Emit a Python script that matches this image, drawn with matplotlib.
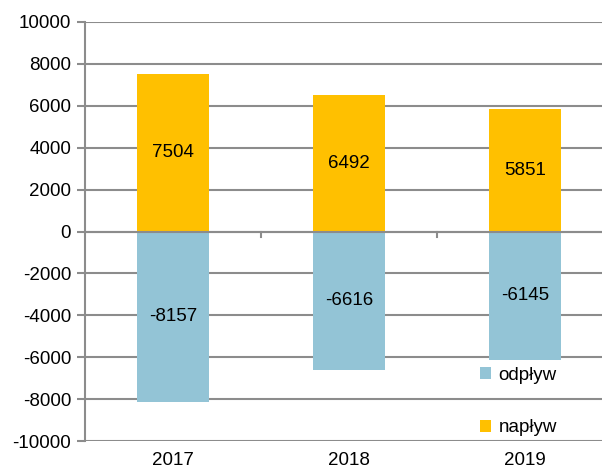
import numpy as np
import matplotlib
matplotlib.use("Agg")
import matplotlib.pyplot as plt

plt.rcParams['font.family'] = ['Liberation Sans', 'DejaVu Sans']
plt.rcParams['axes.unicode_minus'] = False
fs = 13.5

years = ['2017', '2018', '2019']
naplyw = [7504, 6492, 5851]
odplyw = [-8157, -6616, -6145]

gold = '#FFC000'
blue = '#93C4D6'
grid = '#8C8C8C'

fig = plt.figure(figsize=(6.02, 4.74), dpi=100)
ax = fig.add_axes([0.1412, 0.0696, 0.877, 0.884])

x = np.arange(len(years))
w = 0.41
b_out = ax.bar(x, odplyw, w, color=blue, label='odpływ', zorder=2)
b_in = ax.bar(x, naplyw, w, color=gold, label='napływ', zorder=2)

# value labels in the middle of each bar
for xi, v in zip(x, naplyw):
    ax.text(xi, v / 2, str(v), ha='center', va='center', fontsize=fs, zorder=4)
for xi, v in zip(x, odplyw):
    ax.text(xi, v / 2, str(v), ha='center', va='center', fontsize=fs, zorder=4)

ax.set_ylim(-10000, 10000)
ax.set_yticks(np.arange(-10000, 10001, 2000))
ax.set_xlim(-0.5, len(years) - 0.5)
ax.set_xticks(x)
ax.set_xticklabels(years)

ax.yaxis.grid(True, color=grid, linewidth=1.5, zorder=1)
ax.set_axisbelow(True)
ax.axhline(0, color=grid, linewidth=1.5, zorder=3)
for b in np.arange(0.5, len(years) - 0.5, 1):
    ax.plot([b, b], [0, -280], color=grid, linewidth=1.5, zorder=3, clip_on=False)

for s in ['top', 'right', 'bottom']:
    ax.spines[s].set_visible(False)
ax.spines['left'].set_color(grid)
ax.spines['left'].set_linewidth(1.5)
ax.tick_params(axis='y', length=6, width=1.5, color=grid, labelsize=fs, pad=4)
ax.tick_params(axis='x', length=0, labelsize=fs, pad=8)

ax.legend(handles=[b_out, b_in], loc='upper left', bbox_to_anchor=(0.73, 0.20),
          frameon=False, fontsize=fs, handlelength=0.6, handleheight=0.6,
          handletextpad=0.4, labelspacing=1.9, borderpad=0)

fig.savefig('out.png', dpi=100)
